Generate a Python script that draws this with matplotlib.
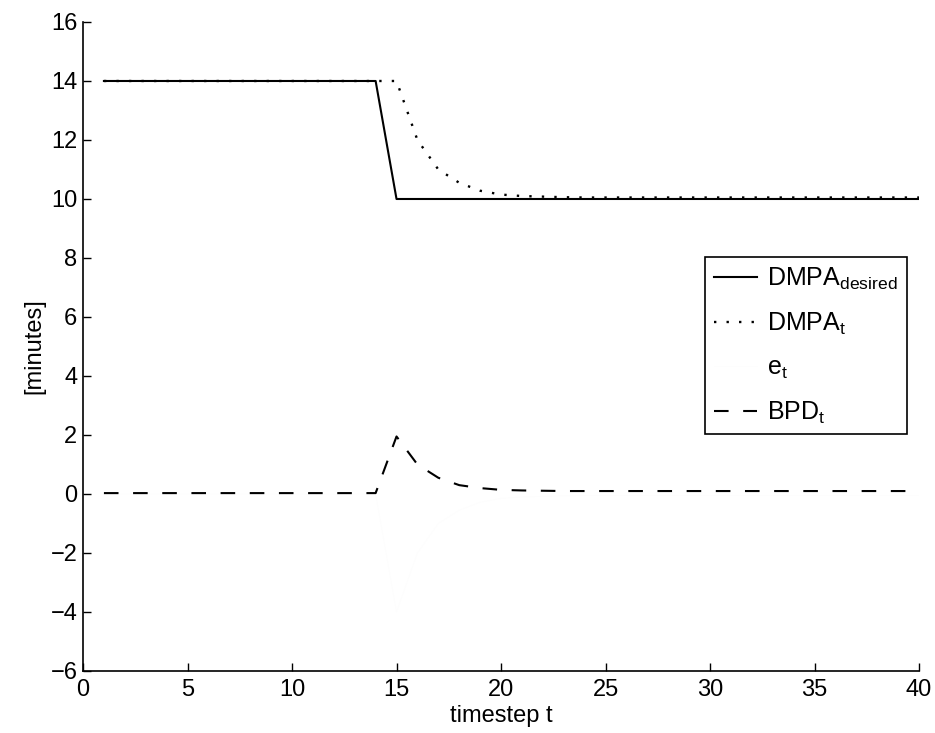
import numpy as np
import matplotlib
matplotlib.use("Agg")
import matplotlib.pyplot as plt

plt.rcParams['font.family'] = ['Liberation Sans', 'DejaVu Sans']
plt.rcParams['mathtext.fontset'] = 'custom'
plt.rcParams['mathtext.rm'] = 'Liberation Sans'
plt.rcParams['mathtext.it'] = 'Liberation Sans:italic'

# timesteps 1..40
t = list(range(1, 41))

dmpa_desired = [14.0] * 14 + [10.0] * 26
dmpa_t = [14.0] * 14 + [14.0, 12.0, 11.0, 10.55, 10.28, 10.15, 10.1, 10.08, 10.06] + [10.05] * 17
e_t = [0.0] * 14 + [-4.0, -2.0, -1.0, -0.55, -0.28, -0.15, -0.1, -0.08, -0.06] + [-0.05] * 17
bpd_t = [0.03] * 14 + [1.95, 1.0, 0.55, 0.3, 0.2, 0.14, 0.12, 0.11, 0.1] + [0.1] * 17

xticks = [0, 5, 10, 15, 20, 25, 30, 35, 40]
yticks = [-6, -4, -2, 0, 2, 4, 6, 8, 10, 12, 14, 16]

fig = plt.figure(figsize=(9.35, 7.33), dpi=100)
ax = fig.add_axes([0.0888, 0.0846, 0.8941, 0.8854])

ax.plot(t, dmpa_desired, '-', color='black', lw=1.5, label=r'DMPA$_{\mathregular{desired}}$')
ax.plot(t, dmpa_t, color='black', lw=1.7, linestyle=(0, (1, 4.3)), label=r'DMPA$_{\mathregular{t}}$')
ax.plot(t, e_t, '-', color='#fdfdfd', lw=0.6, label=r'e$_{\mathregular{t}}$')
ax.plot(t, bpd_t, color='black', lw=1.5, linestyle=(0, (7, 7)), label=r'BPD$_{\mathregular{t}}$')

ax.set_xlim(0, 40)
ax.set_ylim(-6, 16)
ax.set_xticks(xticks)
ax.set_yticks(yticks)
ax.set_xticklabels([str(v) for v in xticks])
ax.set_yticklabels([str(v).replace('-', '\u2212') for v in yticks])
ax.tick_params(direction='in', length=6, width=1, labelsize=17)
ax.tick_params(axis='x', pad=6)
ax.tick_params(axis='y', pad=4)
ax.spines['top'].set_visible(False)
ax.spines['right'].set_visible(False)
ax.spines['left'].set_linewidth(1.2)
ax.spines['bottom'].set_linewidth(1.2)

ax.set_xlabel('timestep t', fontsize=17, labelpad=3)
ax.set_ylabel('[minutes]', fontsize=17, labelpad=4)

leg = ax.legend(loc='upper left', bbox_to_anchor=(0.744, 0.638), fontsize=18,
                frameon=True, fancybox=False, edgecolor='black', framealpha=1,
                handlelength=1.75, handletextpad=0.4, labelspacing=0.75,
                borderpad=0.35, borderaxespad=0)
leg.get_frame().set_linewidth(1.2)

fig.savefig('out.png', dpi=100)
